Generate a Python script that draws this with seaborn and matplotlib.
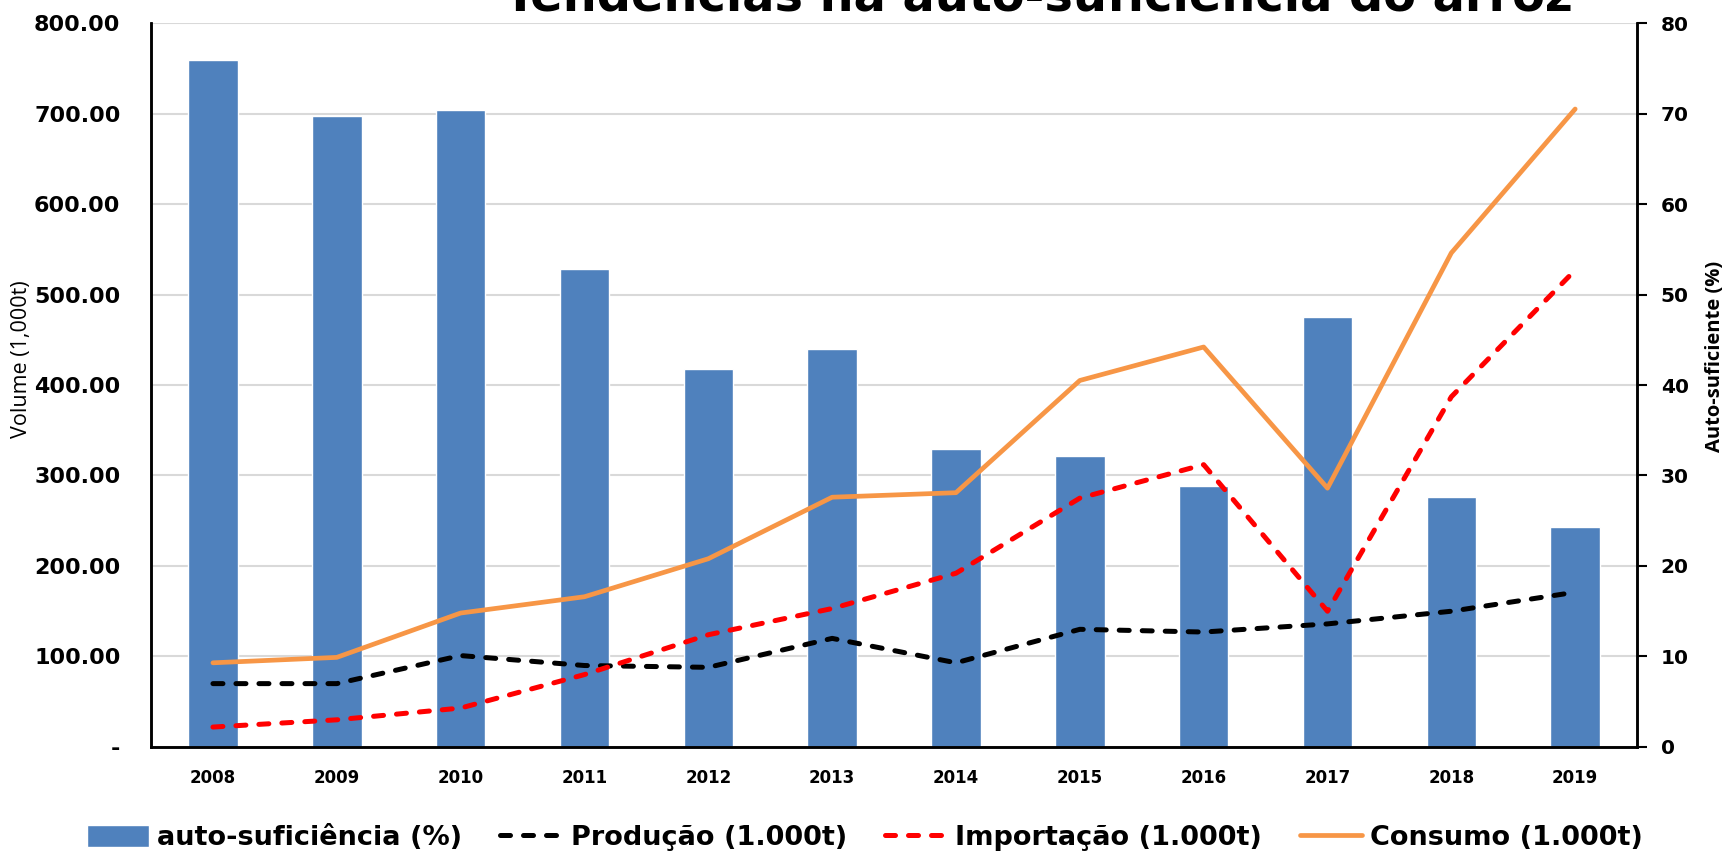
# %%

import numpy as np
import pandas as pd
import matplotlib
matplotlib.use('Agg')
import matplotlib.pyplot as plt
import seaborn as sns

# %%

anos = ['2008', '2009', '2010', '2011', '2012', '2013',
        '2014', '2015', '2016', '2017', '2018', '2019']
auto_suficiencia = [75.9, 69.7, 70.4, 52.8, 41.8, 44.0,
                    32.9, 32.2, 28.8, 47.5, 27.6, 24.3]
producao = [70, 70, 101, 90, 88, 120, 93, 130, 127, 136, 150, 171]
importacao = [22, 30, 43, 80, 124, 153, 192, 275, 312, 150, 387, 527]
consumo = [93, 99, 148, 166, 208, 276, 281, 405, 442, 286, 546, 705]

df = pd.DataFrame({'ano': anos,
                   'auto': auto_suficiencia,
                   'prod': producao,
                   'imp': importacao,
                   'cons': consumo})

# %%

sns.set_theme(style='white')
plt.rcParams['font.family'] = ['DejaVu Sans']
plt.rcParams['text.color'] = 'black'
plt.rcParams['axes.labelcolor'] = 'black'
plt.rcParams['xtick.color'] = 'black'
plt.rcParams['ytick.color'] = 'black'

fig = plt.figure(figsize=(17.3, 8.57), dpi=100)
ax = fig.add_axes([0.0873, 0.1284, 0.8590, 0.8447])
ax2 = ax.twinx()

# linhas no eixo da esquerda
tracejado = (0, (2.0, 2.6))
sns.lineplot(data=df, x='ano', y='prod', ax=ax, sort=False,
             color='black', linewidth=3.6, linestyle=tracejado,
             dash_capstyle='round', label='Produção (1.000t)')
sns.lineplot(data=df, x='ano', y='imp', ax=ax, sort=False,
             color='#FF0000', linewidth=3.6, linestyle=tracejado,
             dash_capstyle='round', label='Importação (1.000t)')
sns.lineplot(data=df, x='ano', y='cons', ax=ax, sort=False,
             color='#F79646', linewidth=3.4,
             label='Consumo (1.000t)')

# barras no eixo da direita
sns.barplot(data=df, x='ano', y='auto', ax=ax2, color='#4F81BD',
            saturation=1, width=0.4, label='auto-suficiência (%)')

ax.set_zorder(ax2.get_zorder() + 1)
ax.patch.set_visible(False)

# %%

ax.set_xlim(-0.5, len(anos) - 0.5)
ax.set_ylim(0, 800)
ax2.set_ylim(0, 80)

ax.set_yticks(np.arange(0, 801, 100))
ax.set_yticklabels(['-'] + [f'{v:.2f}' for v in range(100, 801, 100)])
ax2.set_yticks(np.arange(0, 81, 10))

ax2.yaxis.grid(True, color='#D9D9D9', linewidth=1.5)
ax2.set_axisbelow(True)
ax.grid(False)

ax.tick_params(axis='y', length=0, pad=22, labelsize=16, labelcolor='black')
ax.tick_params(axis='x', length=0, pad=16, labelsize=12, labelcolor='black')
for lbl in ax.get_yticklabels() + ax.get_xticklabels():
    lbl.set_fontweight('bold')
ax2.tick_params(axis='y', length=7, width=1.5, direction='out', color='black',
                pad=10, labelsize=14.5, right=True, labelcolor='black')
for lbl in ax2.get_yticklabels():
    lbl.set_fontweight('bold')

for a in (ax, ax2):
    a.spines['top'].set_visible(False)
    for s in ('left', 'right', 'bottom'):
        a.spines[s].set_color('black')
        a.spines[s].set_linewidth(1.8)

ax.set_xlabel('')
ax.set_ylabel('Volume (1,000t)', fontsize=15.5, family='Open Sans',
              color='black')
ax.yaxis.set_label_coords(-0.080, 0.535)
ax2.set_ylabel('Auto-suficiente (%)', fontsize=14.5, family='Open Sans',
               fontweight='bold', color='black')
ax2.yaxis.set_label_coords(1.046, 0.54)

fig.text(0.6, 0.986, 'Tendências na auto-suficiência do arroz',
         ha='center', va='baseline', fontsize=34.5, fontweight='bold',
         color='black')

# legenda
h1, l1 = ax2.get_legend_handles_labels()
h2, l2 = ax.get_legend_handles_labels()
ax.get_legend().remove()
if ax2.get_legend() is not None:
    ax2.get_legend().remove()
leg = fig.legend(h1 + h2, l1 + l2, loc='lower center', ncol=4, frameon=False,
                 bbox_to_anchor=(0.5, -0.022),
                 prop={'weight': 'bold', 'size': 19.5},
                 handlelength=2.3, handleheight=0.9, columnspacing=1.4,
                 handletextpad=0.3)
for t in leg.get_texts():
    t.set_color('black')

fig.savefig('out.png', dpi=100)
